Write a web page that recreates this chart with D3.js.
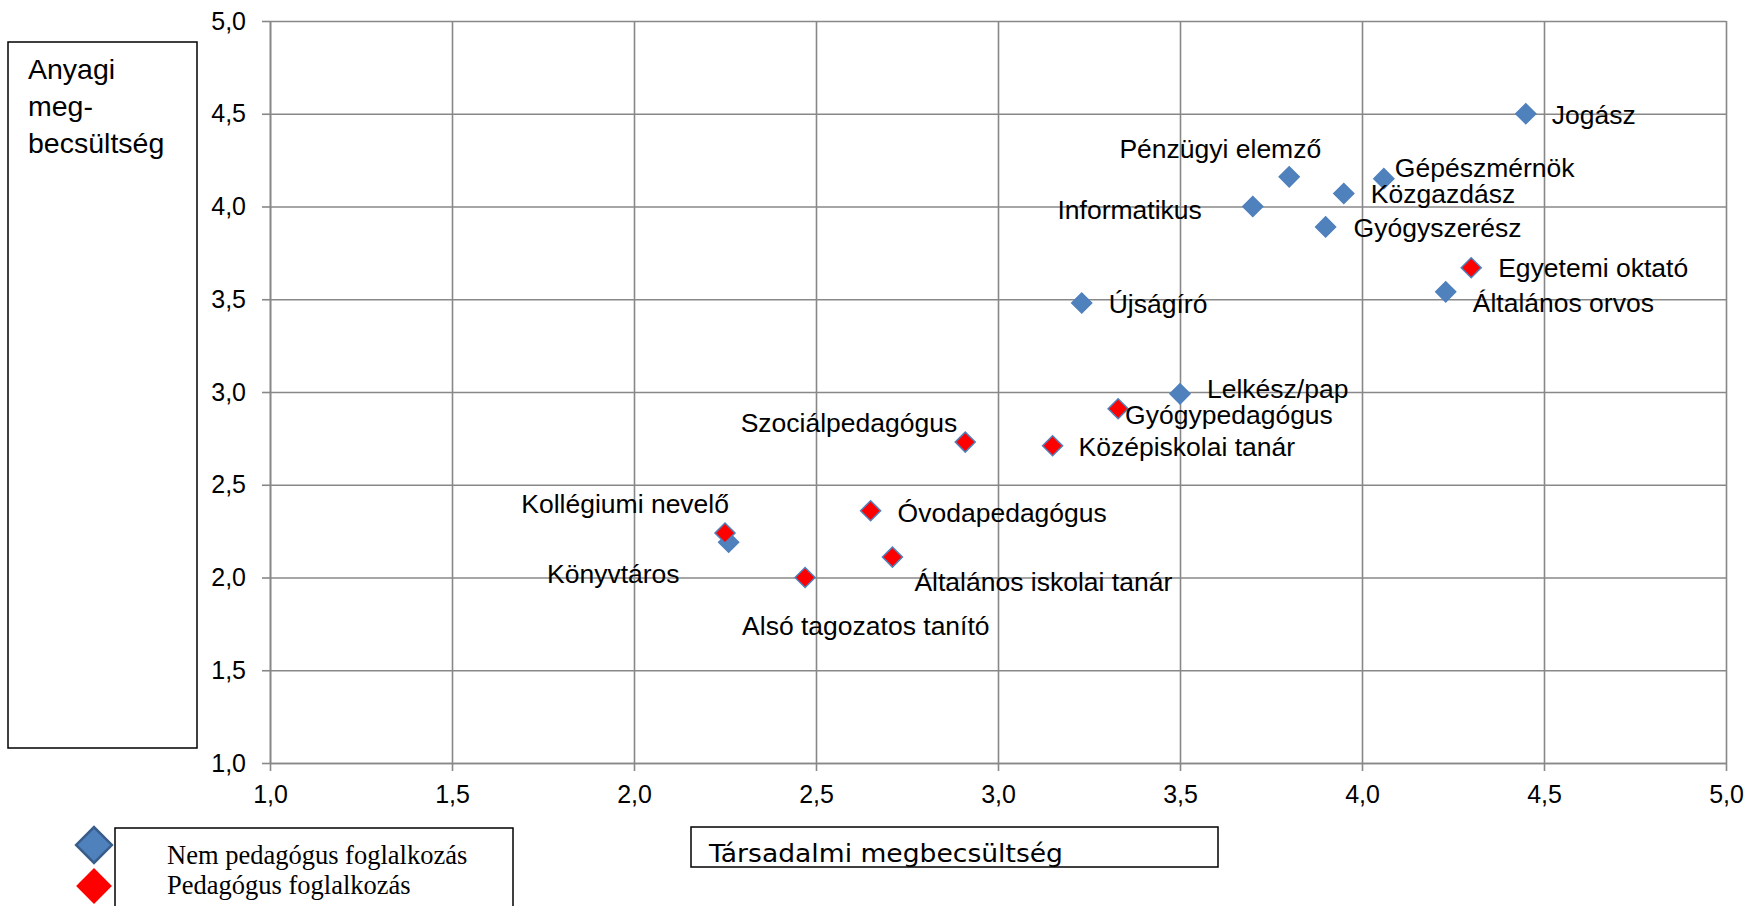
<!DOCTYPE html>
<html>
<head>
<meta charset="utf-8">
<title>Anyagi és társadalmi megbecsültség</title>
<style>
  body { margin: 0; background: #fff; }
  svg { display: block; font-family: "Liberation Sans", Arial, sans-serif; }
  .grid line { stroke: #888; stroke-width: 1.6; }
  .grid path { display: none; }
  .axis path, .axis line { stroke: #888; stroke-width: 1.6; }
  .axis text { font-size: 25px; fill: #000; font-family: "Liberation Sans", Arial, sans-serif; }
  .lbl { font-size: 26.5px; fill: #000; }
</style>
<script src="https://d3js.org/d3.v7.min.js"></script>
</head>
<body>
<script>
// occupations, [társadalmi, anyagi] values
var nemPedNames = ["Jogász", "Pénzügyi elemző", "Gépészmérnök", "Közgazdász", "Informatikus",
                   "Gyógyszerész", "Általános orvos", "Újságíró", "Lelkész/pap", "Könyvtáros"];
var nemPedX = [4.45, 3.80, 4.06, 3.95, 3.70, 3.90, 4.23, 3.23, 3.50, 2.26];
var nemPedY = [4.50, 4.16, 4.15, 4.07, 4.00, 3.89, 3.54, 3.48, 2.99, 2.19];

var pedNames = ["Egyetemi oktató", "Gyógypedagógus", "Szociálpedagógus", "Középiskolai tanár",
                "Kollégiumi nevelő", "Óvodapedagógus", "Általános iskolai tanár", "Alsó tagozatos tanító"];
var pedX = [4.30, 3.33, 2.91, 3.15, 2.25, 2.65, 2.71, 2.47];
var pedY = [3.67, 2.91, 2.73, 2.71, 2.24, 2.36, 2.11, 2.00];

var xTicks = [1.0, 1.5, 2.0, 2.5, 3.0, 3.5, 4.0, 4.5, 5.0];
var yTicks = [1.0, 1.5, 2.0, 2.5, 3.0, 3.5, 4.0, 4.5, 5.0];
var seriesNames = ["Nem pedagógus foglalkozás", "Pedagógus foglalkozás"];

// label placement (offset from marker: dx, dy, anchor) - manual, like in the original
var nemPedLbl = [[26, 10, "start"], [32, -19, "end"], [11, -2, "start"], [27, 9, "start"], [-51, 12, "end"],
                 [28, 10, "start"], [27, 20, "start"], [27, 10, "start"], [27, 4, "start"], [-49, 41, "end"]];
var pedLbl = [[27, 9, "start"], [7, 15, "start"], [-8, -10, "end"], [26, 10, "start"],
              [4, -20, "end"], [27, 11, "start"], [22, 34, "start"], [-63, 57, "start"]];

var width = 1760, height = 906;
var plotL = 270, plotR = 1726, plotT = 21, plotB = 763;

var svg = d3.select("body").append("svg")
    .attr("width", width)
    .attr("height", height);

var x = d3.scaleLinear().domain([1, 5]).range([plotL, plotR]);
var y = d3.scaleLinear().domain([1, 5]).range([plotB, plotT]);
var fmt = function(d) { return d.toFixed(1).replace(".", ","); };

// gridlines
svg.append("g").attr("class", "grid")
    .attr("transform", "translate(0," + plotB + ")")
    .call(d3.axisBottom(x).tickValues(xTicks).tickSize(-(plotB - plotT)).tickFormat(""));
svg.append("g").attr("class", "grid")
    .attr("transform", "translate(" + plotL + ",0)")
    .call(d3.axisLeft(y).tickValues(yTicks).tickSize(-(plotR - plotL)).tickFormat(""));

// axes
svg.append("g").attr("class", "axis")
    .attr("transform", "translate(0," + plotB + ")")
    .call(d3.axisBottom(x).tickValues(xTicks).tickSize(8).tickSizeOuter(0).tickPadding(14).tickFormat(fmt));
svg.append("g").attr("class", "axis")
    .attr("transform", "translate(" + plotL + ",0)")
    .call(d3.axisLeft(y).tickValues(yTicks).tickSize(8).tickSizeOuter(0).tickPadding(16).tickFormat(fmt));

var diamond = d3.symbol().type(d3.symbolSquare).size(200);

function drawSeries(names, xs, ys, lbl, fill, stroke) {
  var data = names.map(function(n, i) { return { name: n, x: xs[i], y: ys[i], l: lbl[i] }; });
  var g = svg.append("g");
  g.selectAll("path")
    .data(data)
    .enter()
    .append("path")
    .attr("d", diamond)
    .attr("transform", function(d) { return "translate(" + x(d.x) + "," + y(d.y) + ") rotate(45)"; })
    .attr("fill", fill)
    .attr("stroke", stroke)
    .attr("stroke-width", 1.5);
  return data;
}

var d1 = drawSeries(nemPedNames, nemPedX, nemPedY, nemPedLbl, "#4F81BD", "#4F81BD");
var d2 = drawSeries(pedNames, pedX, pedY, pedLbl, "#FF0000", "#4F81BD");

// labels on top
svg.append("g").selectAll("text")
    .data(d1.concat(d2))
    .enter()
    .append("text")
    .attr("class", "lbl")
    .attr("x", function(d) { return x(d.x) + d.l[0]; })
    .attr("y", function(d) { return y(d.y) + d.l[1]; })
    .attr("text-anchor", function(d) { return d.l[2]; })
    .text(function(d) { return d.name; });

// y title box
svg.append("rect").attr("x", 8).attr("y", 42).attr("width", 189).attr("height", 706)
    .attr("fill", "none").attr("stroke", "#000").attr("stroke-width", 1.5);
var yt = svg.append("text").attr("x", 28).attr("y", 79).style("font-size", "28.5px");
["Anyagi", "meg-", "becsültség"].forEach(function(t, i) {
  yt.append("tspan").attr("x", 28).attr("dy", i ? 37 : 0).text(t);
});

// x title box
svg.append("rect").attr("x", 691).attr("y", 827).attr("width", 527).attr("height", 40)
    .attr("fill", "none").attr("stroke", "#000").attr("stroke-width", 1.5);
svg.append("text").attr("x", 709).attr("y", 862)
    .style("font-family", "'DejaVu Sans', sans-serif")
    .style("font-size", "25px")
    .attr("textLength", 354)
    .attr("lengthAdjust", "spacingAndGlyphs")
    .text("Társadalmi megbecsültség");

// legend
svg.append("rect").attr("x", 115).attr("y", 828).attr("width", 398).attr("height", 90)
    .attr("fill", "none").attr("stroke", "#000").attr("stroke-width", 1.5);
var legDiamond = d3.symbol().type(d3.symbolSquare).size(640);
var legColors = [["#4F81BD", "#385D8A"], ["#FF0000", "none"]];
seriesNames.forEach(function(s, i) {
  svg.append("path")
    .attr("d", legDiamond)
    .attr("transform", "translate(" + 94 + "," + (845 + i * 41) + ") rotate(45)")
    .attr("fill", legColors[i][0])
    .attr("stroke", legColors[i][1])
    .attr("stroke-width", 2.5);
  svg.append("text")
    .attr("x", 167).attr("y", 864 + i * 30)
    .style("font-family", "'Liberation Serif', 'Times New Roman', serif")
    .style("font-size", "26.5px")
    .text(s);
});
</script>
</body>
</html>
